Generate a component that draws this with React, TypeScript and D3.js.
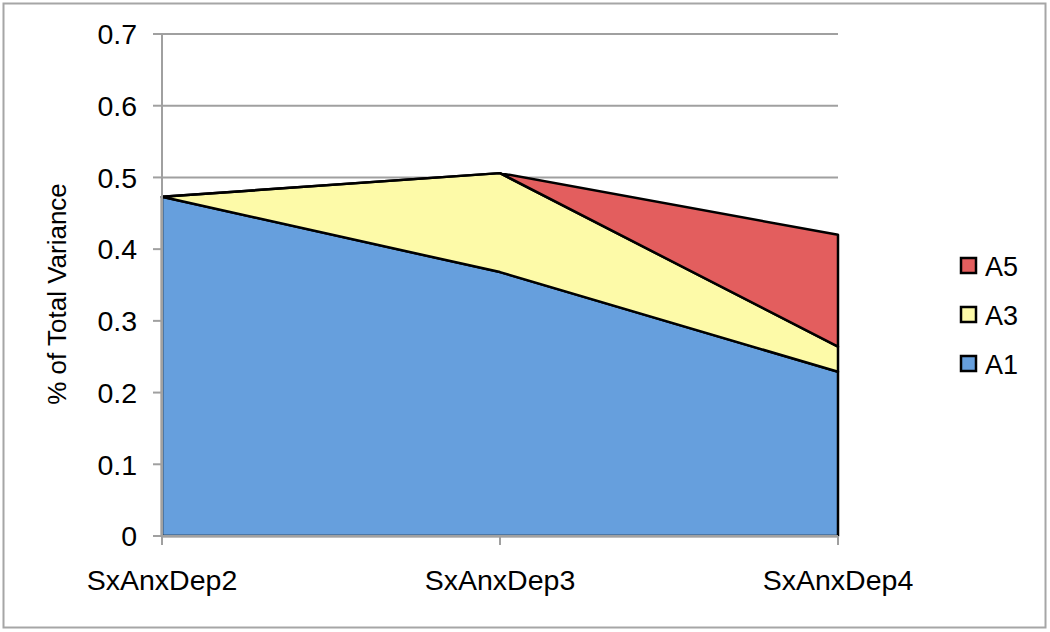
import React, { useEffect, useRef } from 'react';
import * as d3 from 'd3';

const categories = ['SxAnxDep2', 'SxAnxDep3', 'SxAnxDep4'];
const seriesNames = ['A1', 'A3', 'A5'];
const a1Values = [0.473, 0.368, 0.229];
const a3Values = [0.0, 0.138, 0.035];
const a5Values = [0.0, 0.0, 0.156];
const yTicks = [0, 0.1, 0.2, 0.3, 0.4, 0.5, 0.6, 0.7];

const colors: Record<string, string> = { A1: '#669fdd', A3: '#fdfaa8', A5: '#e35e5e' };

export default function App() {
  const ref = useRef<SVGSVGElement>(null);

  useEffect(() => {
    const svg = d3.select(ref.current);
    svg.selectAll('*').remove();

    const font = 'Liberation Sans, Arial, sans-serif';
    const left = 162, right = 838, top = 34, bottom = 536;

    // outer frame
    svg.append('rect')
      .attr('x', 3.5).attr('y', 3.5)
      .attr('width', 1042).attr('height', 624)
      .attr('fill', '#fff')
      .attr('stroke', '#a6a6a6')
      .attr('stroke-width', 2);

    const x = d3.scalePoint().domain(categories).range([left, right]);
    const y = d3.scaleLinear().domain([0, 0.7]).range([bottom, top]);

    // gridlines
    svg.append('g').selectAll('line')
      .data(yTicks.filter(d => d > 0))
      .enter().append('line')
      .attr('x1', left).attr('x2', right)
      .attr('y1', d => y(d)).attr('y2', d => y(d))
      .attr('stroke', '#a0a0a0').attr('stroke-width', 2);

    const rows = categories.map((c, i) => ({ cat: c, A1: a1Values[i], A3: a3Values[i], A5: a5Values[i] }));
    const stack = d3.stack<any>().keys(seriesNames);
    const layers = stack(rows);

    const area = d3.area<any>()
      .x(d => x(d.data.cat) as number)
      .y0(d => y(d[0]))
      .y1(d => y(d[1]));

    svg.append('g').selectAll('path')
      .data(layers)
      .enter().append('path')
      .attr('d', d => area(d) as string)
      .attr('fill', d => colors[d.key])
      .attr('stroke', '#000')
      .attr('stroke-width', 2.5)
      .attr('stroke-linejoin', 'round');

    // axes
    svg.append('line')
      .attr('x1', left).attr('x2', left)
      .attr('y1', top).attr('y2', bottom)
      .attr('stroke', '#a0a0a0').attr('stroke-width', 2);
    svg.append('line')
      .attr('x1', left).attr('x2', right)
      .attr('y1', bottom).attr('y2', bottom)
      .attr('stroke', '#a0a0a0').attr('stroke-width', 2);

    svg.append('g').selectAll('line')
      .data(yTicks)
      .enter().append('line')
      .attr('x1', left - 9).attr('x2', left)
      .attr('y1', d => y(d)).attr('y2', d => y(d))
      .attr('stroke', '#a0a0a0').attr('stroke-width', 2);

    svg.append('g').selectAll('text')
      .data(yTicks)
      .enter().append('text')
      .attr('x', 137)
      .attr('y', d => y(d))
      .attr('dy', '0.36em')
      .attr('text-anchor', 'end')
      .attr('font-family', font)
      .attr('font-size', 28.5)
      .text(d => d3.format('')(d));

    svg.append('g').selectAll('line')
      .data(categories)
      .enter().append('line')
      .attr('x1', d => x(d) as number).attr('x2', d => x(d) as number)
      .attr('y1', bottom).attr('y2', bottom + 9)
      .attr('stroke', '#a0a0a0').attr('stroke-width', 2);

    svg.append('g').selectAll('text')
      .data(categories)
      .enter().append('text')
      .attr('x', d => x(d) as number)
      .attr('y', 590)
      .attr('text-anchor', 'middle')
      .attr('font-family', font)
      .attr('font-size', 28.5)
      .text(d => d);

    svg.append('text')
      .attr('transform', 'translate(66,294) rotate(-90)')
      .attr('text-anchor', 'middle')
      .attr('font-family', font)
      .attr('font-size', 26)
      .text('% of Total Variance');

    // legend
    const legendItems = ['A5', 'A3', 'A1'];
    const lg = svg.append('g').selectAll('g')
      .data(legendItems)
      .enter().append('g')
      .attr('transform', (d, i) => `translate(961,${266 + i * 49})`);
    lg.append('rect')
      .attr('x', 0).attr('y', -8)
      .attr('width', 15).attr('height', 15)
      .attr('fill', d => colors[d])
      .attr('stroke', '#000')
      .attr('stroke-width', 2.5);
    lg.append('text')
      .attr('x', 24).attr('y', 0)
      .attr('dy', '0.36em')
      .attr('font-family', font)
      .attr('font-size', 27)
      .text(d => d);
  }, []);

  return (
    <svg ref={ref} width={1050} height={632} style={{ display: 'block', position: 'absolute', left: 0, top: 0 }} />
  );
}
